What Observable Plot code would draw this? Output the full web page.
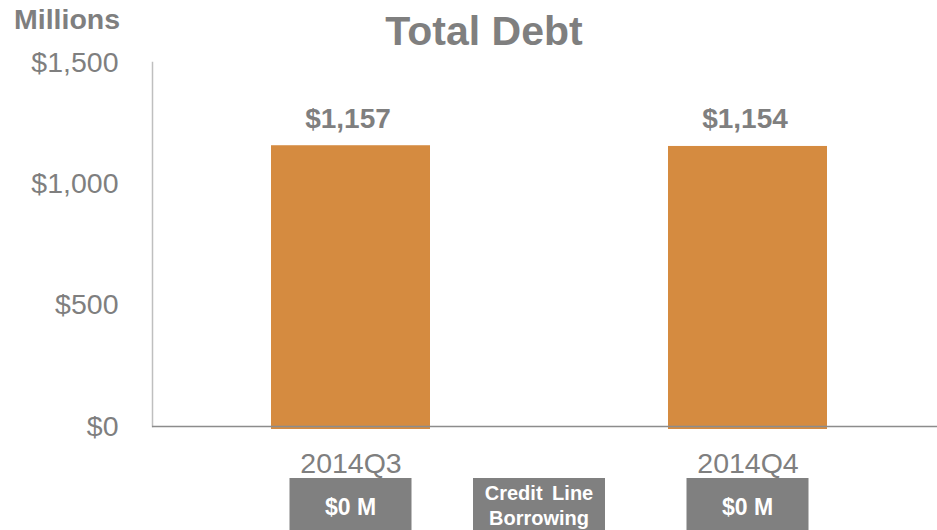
<!DOCTYPE html>
<html>
<head>
<meta charset="utf-8">
<script src="https://cdn.jsdelivr.net/npm/d3@7"></script>
<script src="https://cdn.jsdelivr.net/npm/@observablehq/plot@0.6"></script>
<style>
  html, body { margin: 0; padding: 0; background: #fff; }
  #chart { width: 937px; height: 530px; overflow: hidden; }
  svg { font-family: "Liberation Sans", Arial, sans-serif; }
</style>
</head>
<body>
<div id="chart"></div>
<script>
const quarters = ["2014Q3", "2014Q4"];
const totalDebt = [1157, 1154];
const creditLine = ["$0 M", "$0 M"];
const yTicks = [0, 500, 1000, 1500];
const titleText = "Total Debt";
const unitText = "Millions";
const middleLabel = ["Credit Line", "Borrowing"];

const data = quarters.map((q, i) => ({quarter: q, debt: totalDebt[i], credit: creditLine[i]}));
const gray = "#7f7f7f";
const money = d => "$" + d3.format(",")(d);

const plot = Plot.plot({
  width: 937,
  height: 530,
  marginLeft: 152,
  marginRight: 0,
  marginTop: 62,
  marginBottom: 104,
  style: {fontFamily: "Liberation Sans, Arial, sans-serif", background: "#fff"},
  x: {domain: quarters, range: [152, 945], paddingInner: 0.6, paddingOuter: 0.2985},
  y: {domain: [0, 1500]},
  marks: [
    Plot.barY(data, {x: "quarter", y: "debt", fill: "#D58B40", insetBottom: -3}),
    Plot.frame({anchor: "left", stroke: "#bfbfbf", strokeWidth: 1.5}),
    Plot.ruleY([0], {stroke: "#8c8c8c", strokeWidth: 1.5}),
    Plot.axisY({ticks: yTicks, tickFormat: money, tickSize: 0, tickPadding: 34, fontSize: 28.5, color: gray, label: null}),
    Plot.axisX({tickSize: 0, tickPadding: 26, fontSize: 28.5, color: gray, label: null}),
    Plot.text(data, {x: "quarter", y: "debt", text: d => money(d.debt), dx: -3, dy: -27, fontSize: 28, fontWeight: "bold", fill: gray})
  ]
});

document.getElementById("chart").appendChild(plot);

const svg = d3.select(plot);
const x = plot.scale("x");
const bw = x.bandwidth;
const center = q => x.apply(q) + bw / 2;

// Title and unit label
svg.append("text").attr("x", 484).attr("y", 45).attr("text-anchor", "middle")
  .attr("font-size", 41).attr("font-weight", "bold").attr("fill", gray).text(titleText);
svg.append("text").attr("x", 14).attr("y", 29).attr("text-anchor", "start")
  .attr("font-size", 28.5).attr("font-weight", "bold").attr("fill", gray).text(unitText);

// Credit line boxes under each quarter
data.forEach(d => {
  const cx = center(d.quarter);
  svg.append("rect").attr("x", cx - 61).attr("y", 478).attr("width", 122).attr("height", 52).attr("fill", "#808080");
  svg.append("text").attr("x", cx).attr("y", 515).attr("text-anchor", "middle")
    .attr("font-size", 23).attr("font-weight", "bold").attr("fill", "#fff").text(d.credit);
});
// Middle label box
const mid = (center(quarters[0]) + center(quarters[1])) / 2 - 10;
svg.append("rect").attr("x", mid - 66).attr("y", 478).attr("width", 132).attr("height", 52).attr("fill", "#808080");
middleLabel.forEach((t, i) => {
  svg.append("text").attr("x", mid).attr("y", 500 + i * 25).attr("text-anchor", "middle")
    .attr("font-size", 20).attr("font-weight", "bold").attr("fill", "#fff")
    .attr("word-spacing", 4).text(t);
});
</script>
</body>
</html>
